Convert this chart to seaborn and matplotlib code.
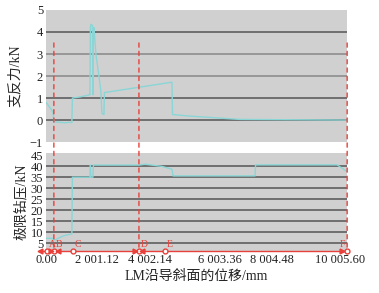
import matplotlib.pyplot as plt
import matplotlib.patches as mpatches
import pandas as pd
import seaborn as sns

# displacement along the guide slope (mm) and support force (kN)
force_x = [0, 233, 266, 299, 465, 632, 798, 864, 881, 1130, 1463, 1479, 1496, 1546,
           1562, 1579, 1596, 1662, 1762, 1828, 1861, 1928, 1945, 4188, 4205, 4787,
           6449, 10005.6]
force_y = [0.82, 0.38, 0.0, -0.08, -0.1, -0.12, -0.1, -0.12, 1.0, 1.05, 1.15, 4.2,
           4.35, 4.3, 1.15, 4.1, 4.2, 3.0, 2.0, 1.3, 0.3, 0.25, 1.25, 1.72, 0.25,
           0.18, 0.03, 0.0]

# limit drilling pressure (kN)
press_x = [0, 199, 266, 366, 598, 864, 881, 1463, 1479, 1496, 1562, 1579, 3091,
           3291, 3856, 4188, 4222, 6947, 6964, 9673, 10005.6]
press_y = [7.3, 7.3, 6.5, 7.0, 8.5, 9.3, 35.0, 35.0, 40.5, 35.0, 35.0, 40.5, 40.5,
           40.9, 39.9, 38.6, 35.6, 35.6, 40.6, 40.6, 37.5]

stage_names = ["A", "B", "C", "D", "E", "F"]
stage_x = [33, 266, 898, 3091, 3956, 10005.6]
dashed_x = [266, 3091, 10005.6]

tick_pos = [33, 1695, 3457, 5784, 7513, 9773]
tick_labels = ["0.00", "2 001.12", "4 002.14", "6 003.36", "8 004.48", "10 005.60"]

sns.set_theme(style="white")
plt.rcParams["font.family"] = ["Liberation Serif", "Noto Sans CJK SC"]
plt.rcParams["axes.unicode_minus"] = True

line_c = "#8ad6d6"
red = "#e8403a"
grey_bg = "#d0d0d0"

fig = plt.figure(figsize=(3.79, 2.93), dpi=100)
ax1 = fig.add_axes([0.121, 0.515, 0.795, 0.451])
ax2 = fig.add_axes([0.121, 0.143, 0.795, 0.335])

df1 = pd.DataFrame({"x": force_x, "y": force_y})
df2 = pd.DataFrame({"x": press_x, "y": press_y})

for ax in (ax1, ax2):
    ax.set_facecolor(grey_bg)
    for s in ax.spines.values():
        s.set_visible(False)
    ax.set_xlim(0, 10005.6)
    ax.tick_params(axis="both", length=0, labelsize=9, pad=2, colors="#222222")

# top panel
ax1.set_ylim(-1, 5)
ax1.set_yticks(range(-1, 6))
for v in range(0, 5):
    ax1.axhline(v, color="#555555" if v in (0, 1, 4) else "#888888", lw=1.1, zorder=1)
sns.lineplot(data=df1, x="x", y="y", ax=ax1, color=line_c, lw=1.0, sort=False,
             estimator=None, zorder=3)
ax1.set_xticks([])
ax1.set_xlabel("")
ax1.set_ylabel("支反力/kN", fontsize=10, labelpad=6)

# bottom panel
ax2.set_ylim(1.5, 46)
ax2.set_yticks(range(5, 50, 5))
for v in range(5, 45, 5):
    ax2.axhline(v, color="#555555", lw=1.1, zorder=1)
sns.lineplot(data=df2, x="x", y="y", ax=ax2, color=line_c, lw=1.0, sort=False,
             estimator=None, zorder=3)
ax2.set_xticks(tick_pos)
ax2.set_xticklabels(tick_labels)
ax2.set_xlabel("LM沿导斜面的位移/mm", fontsize=10, labelpad=3)
ax2.set_ylabel("极限钻压/kN", fontsize=10, labelpad=2)

# red dashed stage boundaries across both panels
for xv in dashed_x:
    con = mpatches.ConnectionPatch(xyA=(xv, 3.5), coordsA=ax1.transData,
                                   xyB=(xv, 1.7), coordsB=ax2.transData,
                                   color=red, lw=1.0, ls=(0, (3, 3)), zorder=5)
    fig.add_artist(con)

# stage annotation line
ax2.plot([-230, 10005.6], [1.7, 1.7], color=red, lw=1.0, clip_on=False, zorder=6)
ax2.plot(stage_x, [1.7] * len(stage_x), ls="none", marker="o", ms=3.5, mfc="white",
         mec=red, mew=1.0, clip_on=False, zorder=7)
ax2.plot([-180, 390, 3200], [1.7, 1.7, 1.7], ls="none", marker="<", ms=3.5,
         color=red, clip_on=False, zorder=7)
ax2.plot([160, 2970, 9850], [1.7, 1.7, 1.7], ls="none", marker=">", ms=3.5,
         color=red, clip_on=False, zorder=7)
for name, xv in zip(stage_names, stage_x):
    ax2.text(xv + 60 if name != "F" else xv - 260, 2.4, name, color=red, fontsize=7,
             ha="left", va="bottom", zorder=8)

fig.savefig("out.png", dpi=100)
